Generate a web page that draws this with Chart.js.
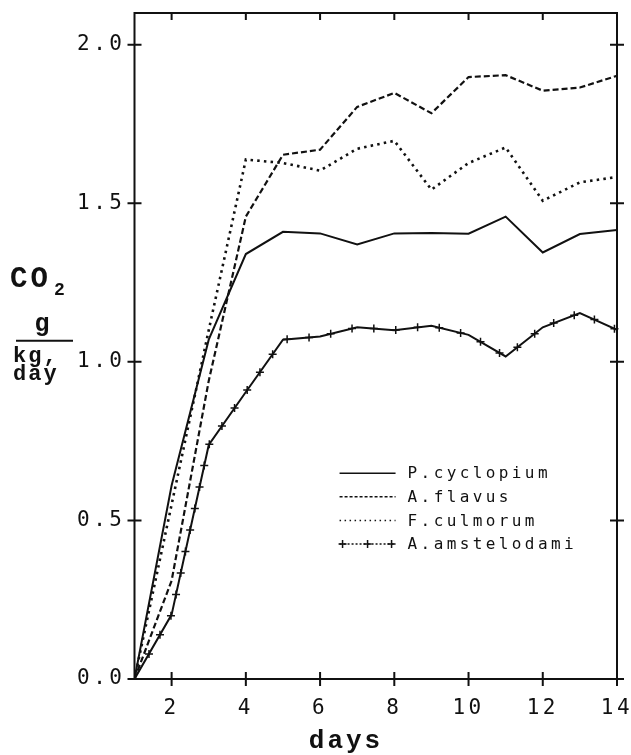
<!DOCTYPE html>
<html><head><meta charset="utf-8">
<script src="https://cdn.jsdelivr.net/npm/chart.js@4/dist/chart.umd.min.js"></script>
<style>html,body{margin:0;padding:0;background:#fff;}#wrap{width:631px;height:755px;position:relative;}</style>
</head><body><div id="wrap"><canvas id="c" width="631" height="755"></canvas></div>
<script>
// ---- data ----
const days = [1,2,3,4,5,6,7,8,9,10,11,12,13,14];
const pCyclopium   = [0,0.61,1.07,1.34,1.41,1.405,1.37,1.405,1.406,1.404,1.458,1.345,1.403,1.416];
const aFlavus      = [0,0.31,0.94,1.458,1.653,1.669,1.804,1.848,1.784,1.898,1.904,1.855,1.865,1.902];
const fCulmorum    = [0,0.55,1.10,1.638,1.627,1.603,1.672,1.697,1.543,1.627,1.676,1.508,1.566,1.583];
const aAmstelodami = [0,0.203,0.738,0.905,1.07,1.08,1.109,1.10,1.114,1.085,1.017,1.109,1.154,1.101];
const seriesNames = ['P.cyclopium','A.flavus','F.culmorum','A.amstelodami'];
const xTicks = [2,4,6,8,10,12,14];
const yTicks = [0,0.5,1.0,1.5,2.0];
const xTitle = 'days';

const INK = '#111';
const pts = arr => days.map((d,i)=>({x:d,y:arr[i]}));

const framePlugin = {
  id:'frame',
  beforeDraw(chart){ chart.ctx.letterSpacing = '3.5px'; },
  afterDatasetsDraw(chart){
    const ctx = chart.ctx, ca = chart.chartArea;
    const xs = chart.scales.x, ys = chart.scales.y;
    ctx.save();
    ctx.strokeStyle = INK; ctx.lineWidth = 2; ctx.setLineDash([]);
    ctx.strokeRect(ca.left, ca.top, ca.right-ca.left, ca.bottom-ca.top);
    ctx.beginPath();
    const t = 7;
    xTicks.forEach(v=>{
      const px = xs.getPixelForValue(v);
      ctx.moveTo(px, ca.bottom - t); ctx.lineTo(px, ca.bottom + t);
      ctx.moveTo(px, ca.top); ctx.lineTo(px, ca.top + t);
    });
    yTicks.forEach(v=>{
      const py = ys.getPixelForValue(v);
      ctx.moveTo(ca.left - t, py); ctx.lineTo(ca.left + t, py);
      ctx.moveTo(ca.right - t, py); ctx.lineTo(ca.right + t, py);
    });
    ctx.stroke();
    // cross markers along A.amstelodami path
    const meta = chart.getDatasetMeta(3);
    const P = meta.data.map(e=>({x:e.x,y:e.y}));
    ctx.lineWidth = 1.5;
    ctx.beginPath();
    const spacing = 22; let next = 29, acc = 0;
    for (let i=0;i<P.length-1;i++){
      const a=P[i], b=P[i+1];
      const L = Math.hypot(b.x-a.x,b.y-a.y);
      while (next <= acc + L){
        const f = (next-acc)/L;
        const cx = a.x + f*(b.x-a.x), cy = a.y + f*(b.y-a.y);
        ctx.moveTo(cx-4,cy); ctx.lineTo(cx+4,cy);
        ctx.moveTo(cx,cy-4); ctx.lineTo(cx,cy+4);
        next += spacing;
      }
      acc += L;
    }
    ctx.stroke();
    ctx.restore();
  },
  afterDraw(chart){
    const ctx = chart.ctx, ca = chart.chartArea;
    const ys = chart.scales.y;
    ctx.save();
    // legend
    const x0 = ca.left + 0.425*(ca.right-ca.left), x1 = x0 + 56, tx = x0 + 68;
    const y0 = ca.top + 0.691*(ca.bottom-ca.top), dy = 23.6;
    chart.data.datasets.forEach((ds,i)=>{
      const y = y0 + i*dy;
      ctx.strokeStyle = INK; ctx.lineWidth = 1.5;
      ctx.setLineDash(ds.legendDash || []);
      ctx.beginPath(); ctx.moveTo(x0,y); ctx.lineTo(x1,y); ctx.stroke();
      ctx.setLineDash([]);
      if (ds.crossMarks){
        ctx.beginPath();
        [x0+3, x0+28, x0+52].forEach(cx=>{
          ctx.moveTo(cx-4,y); ctx.lineTo(cx+4,y); ctx.moveTo(cx,y-4); ctx.lineTo(cx,y+4);
        });
        ctx.stroke();
      }
      ctx.fillStyle = INK;
      ctx.letterSpacing = '3.4px';
      ctx.font = '16px "DejaVu Sans Mono"';
      ctx.textAlign = 'left'; ctx.textBaseline = 'middle';
      ctx.fillText(ds.label, tx, y+1);
    });
    // x title
    ctx.letterSpacing = '3px';
    ctx.font = 'bold 26px "Liberation Mono"';
    ctx.textAlign = 'center'; ctx.textBaseline = 'alphabetic';
    ctx.fillText(xTitle, 346, 748);
    // y title (CO2, g / kg, day)
    const yr = ys.getPixelForValue(1.0);
    ctx.textAlign = 'left';
    ctx.letterSpacing = '3px';
    ctx.font = 'bold 29px "Liberation Mono"';
    ctx.fillText('CO', 10, yr - 75);
    ctx.letterSpacing = '0px';
    ctx.font = 'bold 18px "Liberation Mono"';
    ctx.fillText('2', 54, yr - 67);
    ctx.font = 'bold 25px "Liberation Mono"';
    ctx.textAlign = 'center';
    ctx.fillText('g', 42, yr - 31);
    ctx.lineWidth = 2; ctx.strokeStyle = INK;
    ctx.beginPath(); ctx.moveTo(16, yr-21); ctx.lineTo(73, yr-21); ctx.stroke();
    ctx.textAlign = 'left';
    ctx.letterSpacing = '2px';
    ctx.font = 'bold 22px "Liberation Mono"';
    ctx.fillText('kg,', 13, yr + 0);
    ctx.fillText('day', 13, yr + 18);
    ctx.restore();
  }
};

new Chart(document.getElementById('c'), {
  type:'line',
  data:{ datasets:[
    {label:seriesNames[0], data:pts(pCyclopium), borderColor:INK, borderWidth:2, legendDash:[]},
    {label:seriesNames[1], data:pts(aFlavus), borderColor:INK, borderWidth:2.2, borderDash:[6,3], legendDash:[3,2]},
    {label:seriesNames[2], data:pts(fCulmorum), borderColor:INK, borderWidth:2.6, borderDash:[2.5,4.2], legendDash:[1.5,3.5]},
    {label:seriesNames[3], data:pts(aAmstelodami), borderColor:INK, borderWidth:2, legendDash:[2,2], crossMarks:true}
  ]},
  options:{
    responsive:false, animation:false, devicePixelRatio:1,
    layout:{padding:{left:0,right:14,top:13,bottom:0}},
    elements:{ point:{radius:0}, line:{tension:0, fill:false, borderCapStyle:'butt'} },
    plugins:{ legend:{display:false}, tooltip:{enabled:false} },
    scales:{
      x:{ type:'linear', min:1, max:14,
        grid:{display:false, drawTicks:false}, border:{display:false},
        ticks:{ font:{family:'DejaVu Sans Mono', size:21}, color:INK, padding:17, autoSkip:false, maxRotation:0,
          callback:v=>String(v) },
        afterBuildTicks:s=>{ s.ticks = xTicks.map(v=>({value:v})); },
        afterFit:s=>{ s.height = 76; s.paddingLeft = 0; s.paddingRight = 0; }
      },
      y:{ type:'linear', min:0, max:2.1,
        grid:{display:false, drawTicks:false}, border:{display:false},
        ticks:{ font:{family:'DejaVu Sans Mono', size:21}, color:INK, padding:9,
          callback:v=>Number(v).toFixed(1) },
        afterBuildTicks:s=>{ s.ticks = yTicks.map(v=>({value:v})); },
        afterFit:s=>{ s.width = 134.5; s.paddingTop = 0; s.paddingBottom = 0; }
      }
    }
  },
  plugins:[framePlugin]
});
</script>
</body></html>
